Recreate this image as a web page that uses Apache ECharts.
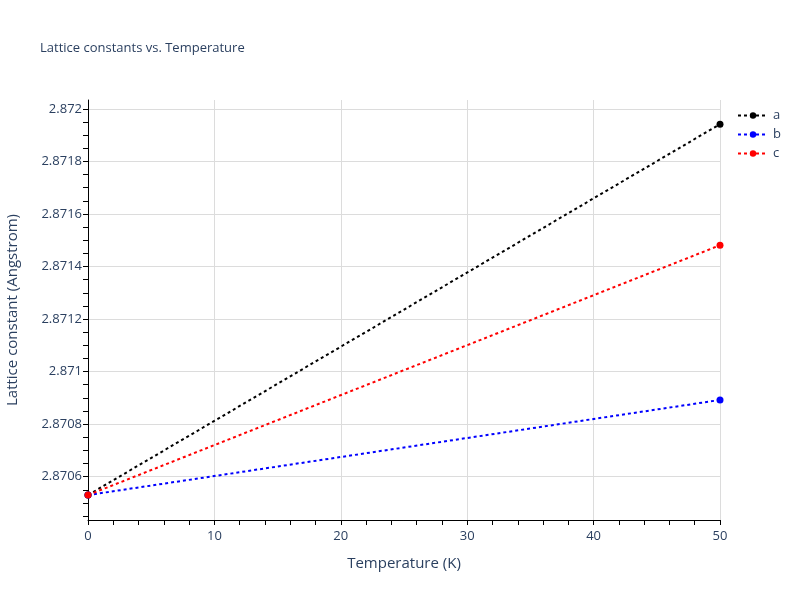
<!DOCTYPE html>
<html><head><meta charset="utf-8">
<script src="https://cdn.jsdelivr.net/npm/echarts@6/dist/echarts.min.js"></script>
<style>html,body{margin:0;padding:0;background:#fff}#c{width:800px;height:600px}</style>
</head><body><div id="c"></div>
<script>
const temperatures = [0, 50];
const seriesA = [2.87053, 2.871942];
const seriesB = [2.87053, 2.870892];
const seriesC = [2.87053, 2.871481];
const yTickLabels = [2.8706, 2.8708, 2.871, 2.8712, 2.8714, 2.8716, 2.8718, 2.872];
const yMinorTicks = [2.87045, 2.8705, 2.87055, 2.8706, 2.87065, 2.8707, 2.87075, 2.8708, 2.87085, 2.8709, 2.87095, 2.871, 2.87105, 2.8711, 2.87115, 2.8712, 2.87125, 2.8713, 2.87135, 2.8714, 2.87145, 2.8715, 2.87155, 2.8716, 2.87165, 2.8717, 2.87175, 2.8718, 2.87185, 2.8719, 2.87195, 2.872];
const yMin = 2.870435, yMax = 2.872034;
const font = '"Open Sans", verdana, arial, sans-serif';
const tc = '#2a3f5f';

function mk(name, vals, color) {
  return {
    name: name, type: 'line',
    data: temperatures.map((t, i) => [t, vals[i]]),
    symbol: 'circle', symbolSize: 7, showSymbol: true,
    lineStyle: {color: color, width: 2, type: [3, 3]},
    itemStyle: {color: color},
    clip: false, animation: false
  };
}
const chart = echarts.init(document.getElementById('c'));
chart.setOption({
  animation: false,
  backgroundColor: '#fff',
  title: {text: 'Lattice constants vs. Temperature', left: 35, top: 37,
    textStyle: {fontFamily: font, fontSize: 13, fontWeight: 'normal', color: tc}},
  legend: {
    orient: 'vertical', left: 732, top: 104, itemGap: 6, itemWidth: 30, itemHeight: 8,
    textStyle: {fontFamily: font, fontSize: 13, color: tc},
    data: ['a', 'b', 'c']
  },
  grid: {left: 88, right: 80, top: 100, bottom: 80, containLabel: false, outerBoundsMode: 'none'},
  xAxis: {
    type: 'value', min: 0, max: 50, interval: 10,
    name: 'Temperature (K)', nameLocation: 'middle', nameGap: 36,
    nameTextStyle: {fontFamily: font, fontSize: 15, color: tc},
    axisLine: {show: true, lineStyle: {color: '#000', width: 1}},
    axisTick: {show: true, length: 5, lineStyle: {color: '#000'}},
    minorTick: {show: true, splitNumber: 5, length: 5, lineStyle: {color: '#000'}},
    axisLabel: {fontFamily: font, fontSize: 13, color: tc, margin: 10},
    splitLine: {show: true, lineStyle: {color: '#dcdcdc', width: 1}}
  },
  yAxis: [{
    type: 'value', min: yMin, max: yMax,
    name: 'Lattice constant (Angstrom)', nameLocation: 'middle', nameGap: 68,
    nameTextStyle: {fontFamily: font, fontSize: 15, color: tc},
    axisLine: {show: true, lineStyle: {color: '#000', width: 1}},
    axisTick: {show: true, length: 5, customValues: yTickLabels, lineStyle: {color: '#000'}},
    axisLabel: {fontFamily: font, fontSize: 13, color: tc, margin: 6, customValues: yTickLabels,
      formatter: v => String(parseFloat(v.toFixed(6)))},
    splitLine: {show: true, lineStyle: {color: '#dcdcdc', width: 1}}
  }, {
    type: 'value', min: yMin, max: yMax, position: 'left', offset: 0,
    axisLine: {show: false},
    axisTick: {show: true, length: 5, customValues: yMinorTicks, lineStyle: {color: '#000'}},
    axisLabel: {show: false, customValues: yMinorTicks},
    splitLine: {show: false}
  }],
  series: [mk('a', seriesA, '#000000'), mk('b', seriesB, '#0000ff'), mk('c', seriesC, '#ff0000')]
});
</script></body></html>
